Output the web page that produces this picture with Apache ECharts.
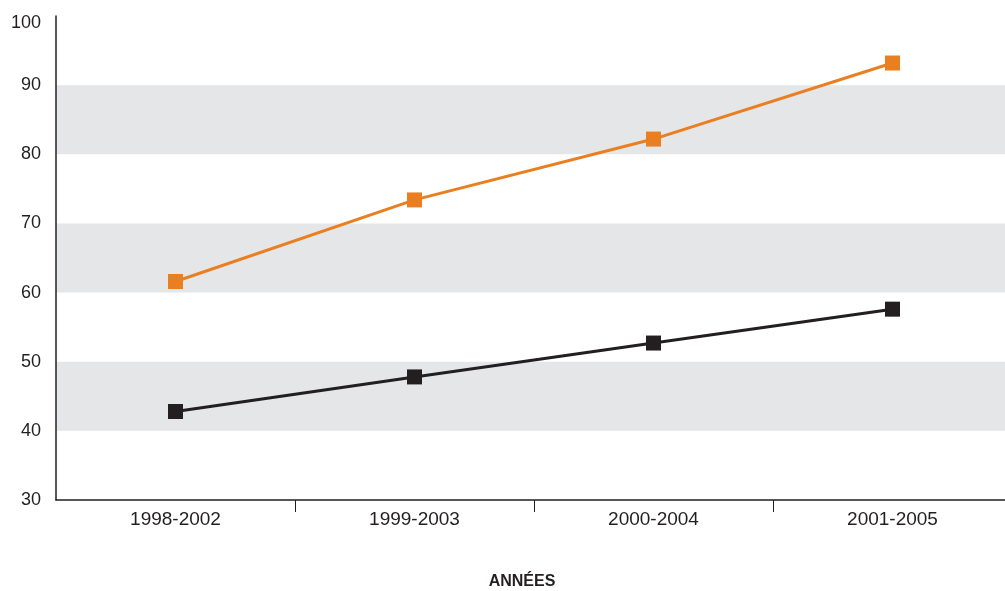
<!DOCTYPE html>
<html>
<head>
<meta charset="utf-8">
<script src="https://cdn.jsdelivr.net/npm/echarts@6/dist/echarts.min.js"></script>
<style>
  html, body { margin: 0; padding: 0; background: #fff; }
  #chart { width: 1005px; height: 591px; }
</style>
</head>
<body>
<div id="chart"></div>
<script>
// data
const categories = ['1998-2002', '1999-2003', '2000-2004', '2001-2005'];
const orangeValues = [61.6, 73.4, 82.2, 93.2];
const blackValues = [42.8, 47.8, 52.7, 57.6];
const yTicks = [30, 40, 50, 60, 70, 80, 90, 100];
const xTitle = 'ANNÉES';

const textColor = '#231f20';
const fontFamily = '"Liberation Sans", Arial, Helvetica, sans-serif';

const chart = echarts.init(document.getElementById('chart'));

const option = {
    animation: false,
    backgroundColor: '#fff',
    textStyle: { fontFamily: fontFamily },
    grid: { left: 56, right: -7, top: 16, bottom: 91, containLabel: false, outerBoundsMode: 'none' },
    xAxis: {
        type: 'category',
        data: categories,
        boundaryGap: true,
        axisLine: { lineStyle: { color: textColor, width: 1.5 } },
        axisTick: {
            show: true,
            length: 12,
            interval: function (index) { return index > 0; },
            lineStyle: { color: textColor, width: 1 }
        },
        axisLabel: { color: textColor, fontSize: 19, margin: 10, fontFamily: fontFamily },
        name: xTitle,
        nameLocation: 'middle',
        nameGap: 74,
        nameTextStyle: {
            color: textColor, fontSize: 16, fontWeight: 'bold', fontFamily: fontFamily,
            padding: [0, 24, 0, 0]
        }
    },
    yAxis: {
        type: 'value',
        min: yTicks[0],
        max: yTicks[yTicks.length - 1],
        interval: 10,
        axisLine: { show: true, lineStyle: { color: textColor, width: 1.5 } },
        axisTick: { show: false },
        axisLabel: {
            color: textColor, fontSize: 18, margin: 15, fontFamily: fontFamily,
            // the top label sits a little lower in the original
            formatter: function (v) { return v === 100 ? '{top|100}' : String(v); },
            rich: { top: { fontSize: 18, color: textColor, padding: [14, 0, 0, 0] } }
        },
        splitLine: { show: false },
        splitArea: {
            show: true,
            areaStyle: { color: ['rgba(255,255,255,0)', '#e5e6e8'] }
        }
    },
    series: [
        {
            type: 'line',
            data: orangeValues,
            symbol: 'rect',
            symbolSize: 15,
            lineStyle: { color: '#ea7f22', width: 3 },
            itemStyle: { color: '#ea7f22' }
        },
        {
            type: 'line',
            data: blackValues,
            symbol: 'rect',
            symbolSize: 15,
            lineStyle: { color: '#231f20', width: 3 },
            itemStyle: { color: '#231f20' }
        }
    ]
};

chart.setOption(option);
</script>
</body>
</html>
